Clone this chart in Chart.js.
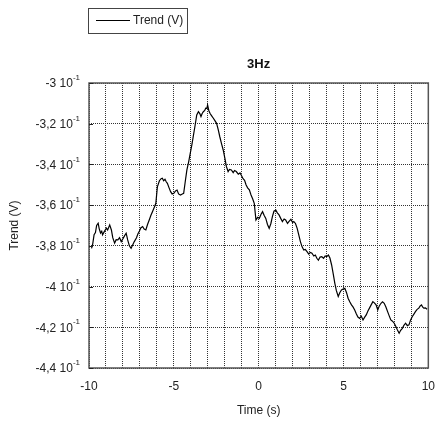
<!DOCTYPE html>
<html>
<head>
<meta charset="utf-8">
<script src="https://cdn.jsdelivr.net/npm/chart.js@4.4.1/dist/chart.umd.min.js"></script>
<style>
  html, body { margin: 0; padding: 0; background: #fff; }
  #wrap { width: 446px; height: 425px; }
</style>
</head>
<body>
<div id="wrap"><canvas id="trendChart" width="446" height="425"></canvas></div>
<script>
// --- Chart data ---
const seriesName = 'Trend (V)';
const chartTitle = '3Hz';
const timeValues = [
  -9.85, -9.78, -9.70, -9.62, -9.55, -9.46, -9.40, -9.32, -9.25, -9.20, -9.10, -8.97, -8.90, -8.78, -8.68, -8.60,
  -8.49, -8.40, -8.30, -8.20, -8.10, -8.00, -7.90, -7.81, -7.72, -7.62, -7.52, -7.42, -7.33, -7.20, -7.12, -7.04,
  -6.95, -6.84, -6.75, -6.65, -6.55, -6.45, -6.35, -6.26, -6.15, -6.06, -5.97, -5.85, -5.75, -5.68, -5.60, -5.52,
  -5.45, -5.38, -5.28, -5.19, -5.10, -5.00, -4.90, -4.81, -4.72, -4.61, -4.50, -4.42, -4.32, -4.23, -4.12, -4.03,
  -3.93, -3.84, -3.75, -3.65, -3.55, -3.47, -3.40, -3.33, -3.26, -3.18, -3.12, -3.05, -3.01, -2.94, -2.87, -2.78,
  -2.67, -2.58, -2.48, -2.38, -2.29, -2.19, -2.09, -1.99, -1.90, -1.80, -1.72, -1.61, -1.50, -1.42, -1.32, -1.20,
  -1.10, -1.03, -0.92, -0.83, -0.74, -0.65, -0.55, -0.45, -0.35, -0.26, -0.16, -0.06, 0.04, 0.14, 0.23, 0.32,
  0.42, 0.52, 0.62, 0.72, 0.81, 0.90, 1.01, 1.10, 1.20, 1.30, 1.40, 1.50, 1.59, 1.70, 1.78, 1.90,
  2.00, 2.07, 2.17, 2.27, 2.36, 2.46, 2.56, 2.66, 2.75, 2.85, 2.95, 3.05, 3.14, 3.25, 3.34, 3.43,
  3.52, 3.62, 3.72, 3.82, 3.92, 4.01, 4.11, 4.20, 4.30, 4.40, 4.49, 4.58, 4.69, 4.78, 4.88, 4.98,
  5.08, 5.18, 5.27, 5.37, 5.47, 5.56, 5.66, 5.76, 5.85, 5.95, 6.05, 6.15, 6.25, 6.34, 6.44, 6.53,
  6.63, 6.73, 6.82, 6.92, 7.02, 7.11, 7.21, 7.30, 7.40, 7.50, 7.60, 7.70, 7.79, 7.89, 7.99, 8.08,
  8.18, 8.28, 8.37, 8.47, 8.56, 8.66, 8.76, 8.86, 8.95, 9.05, 9.15, 9.24, 9.34, 9.44, 9.52, 9.60,
  9.66, 9.73, 9.83, 9.93
];
const trendValues = [
  -0.3812, -0.3790, -0.3745, -0.3735, -0.3700, -0.3689, -0.3715, -0.3737, -0.3728, -0.3746, -0.3730, -0.3713, -0.3722, -0.3697, -0.3722, -0.3760,
  -0.3787, -0.3770, -0.3771, -0.3760, -0.3779, -0.3765, -0.3750, -0.3738, -0.3771, -0.3800, -0.3812, -0.3795, -0.3779, -0.3760, -0.3742, -0.3730,
  -0.3712, -0.3705, -0.3718, -0.3722, -0.3695, -0.3673, -0.3650, -0.3632, -0.3610, -0.3591, -0.3510, -0.3480, -0.3470, -0.3468, -0.3480, -0.3473,
  -0.3485, -0.3493, -0.3515, -0.3534, -0.3545, -0.3542, -0.3530, -0.3526, -0.3545, -0.3550, -0.3545, -0.3542, -0.3480, -0.3427, -0.3385, -0.3345,
  -0.3300, -0.3255, -0.3210, -0.3157, -0.3141, -0.3150, -0.3165, -0.3150, -0.3141, -0.3135, -0.3124, -0.3125, -0.3108, -0.3135, -0.3149, -0.3160,
  -0.3173, -0.3185, -0.3198, -0.3230, -0.3264, -0.3298, -0.3329, -0.3370, -0.3411, -0.3435, -0.3425, -0.3427, -0.3440, -0.3430, -0.3435, -0.3448,
  -0.3442, -0.3452, -0.3470, -0.3478, -0.3501, -0.3515, -0.3525, -0.3550, -0.3570, -0.3591, -0.3673, -0.3660, -0.3665, -0.3645, -0.3632, -0.3650,
  -0.3665, -0.3695, -0.3714, -0.3690, -0.3656, -0.3630, -0.3624, -0.3638, -0.3648, -0.3665, -0.3681, -0.3668, -0.3673, -0.3690, -0.3681, -0.3670,
  -0.3685, -0.3681, -0.3690, -0.3714, -0.3745, -0.3779, -0.3805, -0.3820, -0.3818, -0.3828, -0.3840, -0.3832, -0.3836, -0.3850, -0.3845, -0.3861,
  -0.3870, -0.3855, -0.3853, -0.3861, -0.3850, -0.3853, -0.3845, -0.3860, -0.3894, -0.3940, -0.3984, -0.4020, -0.4049, -0.4030, -0.4017, -0.4012,
  -0.4008, -0.4030, -0.4057, -0.4075, -0.4090, -0.4100, -0.4115, -0.4135, -0.4150, -0.4156, -0.4145, -0.4164, -0.4150, -0.4139, -0.4120, -0.4106,
  -0.4090, -0.4074, -0.4080, -0.4090, -0.4115, -0.4095, -0.4082, -0.4075, -0.4082, -0.4100, -0.4123, -0.4145, -0.4164, -0.4170, -0.4180, -0.4195,
  -0.4213, -0.4229, -0.4215, -0.4205, -0.4190, -0.4180, -0.4192, -0.4188, -0.4165, -0.4148, -0.4135, -0.4123, -0.4112, -0.4106, -0.4095, -0.4090,
  -0.4100, -0.4106, -0.4105, -0.4111
];
const yTickValues = [-0.30, -0.32, -0.34, -0.36, -0.38, -0.40, -0.42, -0.44];
const xTickLabels = [-10, -5, 0, 5, 10];

const FONT = '"Liberation Sans", Arial, sans-serif';

// "-0.32" -> mantissa "-3,2" (shown as "-3,2 10^-1")
function mantissa(v) {
    let m = (v * 10).toFixed(1);
    if (m.endsWith('.0')) m = m.slice(0, -2);
    return m.replace('.', ',');
}

// --- Plugin: frame, y tick labels with superscript, title and boxed legend ---
const decorPlugin = {
    id: 'decor',
    afterDraw(chart) {
        const ctx = chart.ctx;
        const area = chart.chartArea;
        const yScale = chart.scales.y;
        ctx.save();

        // plot frame
        ctx.strokeStyle = '#555';
        ctx.lineWidth = 1.5;
        ctx.strokeRect(area.left, area.top, area.right - area.left, area.bottom - area.top);

        // short ticks on the left edge
        ctx.lineWidth = 1;
        ctx.strokeStyle = '#222';
        yTickValues.forEach(v => {
            const y = Math.round(yScale.getPixelForValue(v)) + 0.5;
            ctx.beginPath();
            ctx.moveTo(area.left, y);
            ctx.lineTo(area.left + 4, y);
            ctx.stroke();
        });

        // y tick labels "-3,2 10^-1"
        ctx.fillStyle = '#222';
        ctx.textBaseline = 'middle';
        ctx.font = '8px ' + FONT;
        const supW = ctx.measureText('-1').width;
        yTickValues.forEach(v => {
            const y = yScale.getPixelForValue(v);
            const right = area.left - 10;
            ctx.font = '8px ' + FONT;
            ctx.textAlign = 'left';
            ctx.fillText('-1', right - supW + 1, y - 5);
            ctx.font = '12px ' + FONT;
            ctx.textAlign = 'right';
            ctx.fillText(mantissa(v) + ' 10', right - supW + 1, y + 1);
        });

        // title over the plot area
        ctx.font = 'bold 13px ' + FONT;
        ctx.textAlign = 'center';
        ctx.fillStyle = '#111';
        ctx.fillText(chartTitle, (area.left + area.right) / 2, 64);

        // legend box
        ctx.strokeStyle = '#444';
        ctx.lineWidth = 1;
        ctx.strokeRect(88.5, 8.5, 99, 25);
        ctx.strokeStyle = '#000';
        ctx.beginPath();
        ctx.moveTo(96, 20.5);
        ctx.lineTo(130, 20.5);
        ctx.stroke();
        ctx.font = '12px ' + FONT;
        ctx.textAlign = 'left';
        ctx.fillStyle = '#222';
        ctx.fillText(seriesName, 133, 21);

        ctx.restore();
    }
};

document.addEventListener('DOMContentLoaded', () => {
    const ctx = document.getElementById('trendChart').getContext('2d');
    const points = timeValues.map((t, i) => ({ x: t, y: trendValues[i] }));

    new Chart(ctx, {
        type: 'line',
        data: {
            datasets: [{
                label: seriesName,
                data: points,
                borderColor: '#000',
                borderWidth: 1.2,
                pointRadius: 0,
                tension: 0,
                fill: false
            }]
        },
        options: {
            responsive: false,
            animation: false,
            events: [],
            layout: { padding: { left: 5, right: 13, top: 83, bottom: 5 } },
            plugins: {
                legend: { display: false },
                title: { display: false },
                tooltip: { enabled: false }
            },
            scales: {
                x: {
                    type: 'linear',
                    min: -10,
                    max: 10,
                    afterBuildTicks: (scale) => {
                        const ticks = [];
                        for (let v = -10; v <= 10; v++) ticks.push({ value: v });
                        scale.ticks = ticks;
                    },
                    afterFit: (scale) => { scale.height = 52; },
                    grid: {
                        color: '#333',
                        lineWidth: 1,
                        drawTicks: false
                    },
                    border: { display: false, dash: [1, 1] },
                    ticks: {
                        padding: 11,
                        maxRotation: 0,
                        autoSkip: false,
                        color: '#222',
                        font: { family: FONT, size: 12 },
                        callback: (v) => xTickLabels.includes(v) ? String(v) : ''
                    },
                    title: {
                        display: true,
                        text: 'Time (s)',
                        color: '#222',
                        font: { family: FONT, size: 12 },
                        padding: { top: 0, bottom: 2 }
                    }
                },
                y: {
                    type: 'linear',
                    min: -0.44,
                    max: -0.30,
                    afterBuildTicks: (scale) => {
                        scale.ticks = yTickValues.map(v => ({ value: v }));
                    },
                    afterFit: (scale) => { scale.width = 84; },
                    grid: {
                        color: '#333',
                        lineWidth: 1,
                        drawTicks: false
                    },
                    border: { display: false, dash: [1, 1] },
                    ticks: { display: false },
                    title: {
                        display: true,
                        text: 'Trend (V)',
                        color: '#222',
                        font: { family: FONT, size: 12 },
                        padding: { top: 2, bottom: 4 }
                    }
                }
            }
        },
        plugins: [decorPlugin]
    });
});
</script>
</body>
</html>
